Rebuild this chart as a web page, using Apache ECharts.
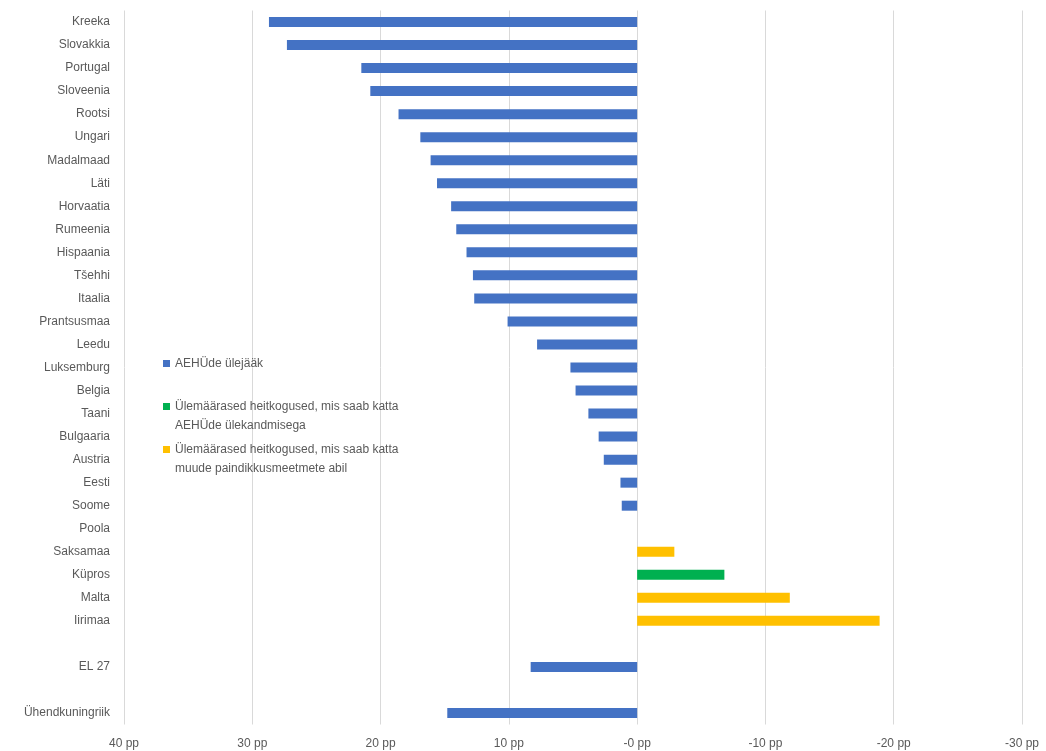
<!DOCTYPE html>
<html>
<head>
<meta charset="utf-8">
<script src="https://cdn.jsdelivr.net/npm/echarts@6/dist/echarts.min.js"></script>
<style>
html, body { margin: 0; padding: 0; background: #fff; }
#main { width: 1046px; height: 751px; }
</style>
</head>
<body>
<div id="main"></div>
<script>
const categories = ['Kreeka', 'Slovakkia', 'Portugal', 'Sloveenia', 'Rootsi', 'Ungari', 'Madalmaad', 'Läti',
    'Horvaatia', 'Rumeenia', 'Hispaania', 'Tšehhi', 'Itaalia', 'Prantsusmaa', 'Leedu', 'Luksemburg',
    'Belgia', 'Taani', 'Bulgaaria', 'Austria', 'Eesti', 'Soome', 'Poola', 'Saksamaa', 'Küpros', 'Malta',
    'Iirimaa', ' ', 'EL 27', '  ', 'Ühendkuningriik'];
// AEHÜde ülejääk
const surplus = [28.7, 27.3, 21.5, 20.8, 18.6, 16.9, 16.1, 15.6, 14.5, 14.1, 13.3, 12.8, 12.7, 10.1, 7.8, 5.2,
    4.8, 3.8, 3.0, 2.6, 1.3, 1.2, 0, null, null, null, null, null, 8.3, null, 14.8];
// katmine AEHÜde ülekandmisega
const transfer = [null, null, null, null, null, null, null, null, null, null, null, null, null, null, null, null,
    null, null, null, null, null, null, null, null, -6.8, null, null, null, null, null, null];
// katmine muude paindlikkusmeetmetega
const other = [null, null, null, null, null, null, null, null, null, null, null, null, null, null, null, null,
    null, null, null, null, null, null, null, -2.9, null, -11.9, -18.9, null, null, null, null];

const names = ['AEHÜde ülejääk',
    'Ülemäärased heitkogused, mis saab katta\nAEHÜde ülekandmisega',
    'Ülemäärased heitkogused, mis saab katta\nmuude paindikkusmeetmete abil'];
const colors = ['#4472C4', '#00B050', '#FFC000'];

const font = 'Liberation Sans';
const legendTops = [349, 392, 435];
// two-line items: keep the square next to the first line
const topIcon = 'path://M0,0H7V7H0Z M0,26L0.01,26';

let myChart = echarts.init(document.getElementById('main'));
let option = {
    color: colors,
    textStyle: { fontFamily: font },
    grid: { left: 124, right: 24, top: 10.5, bottom: 26.5 },
    legend: legendTops.map((t, i) => ({
        orient: 'vertical',
        left: 158,
        top: t,
        data: [names[i]],
        icon: i === 0 ? 'rect' : topIcon,
        itemWidth: 7,
        itemHeight: i === 0 ? 7 : 26,
        itemGap: 0,
        selectedMode: false,
        textStyle: { color: '#595959', fontSize: 12, lineHeight: 19, fontFamily: font }
    })),
    xAxis: {
        type: 'value',
        inverse: true,
        min: -30,
        max: 40,
        interval: 10,
        axisLine: { show: false },
        axisTick: { show: false },
        splitLine: { lineStyle: { color: '#D9D9D9' } },
        axisLabel: {
            color: '#595959',
            fontSize: 12,
            margin: 13,
            formatter: v => (v > 0 ? v : '-' + Math.abs(v)) + ' pp'
        }
    },
    yAxis: {
        type: 'category',
        inverse: true,
        data: categories,
        axisLine: { show: false },
        axisTick: { show: false },
        axisLabel: { color: '#595959', fontSize: 12, margin: 14 }
    },
    series: [
        { name: names[0], type: 'bar', stack: 'a', barWidth: 10, data: surplus },
        { name: names[1], type: 'bar', stack: 'a', barWidth: 10, data: transfer },
        { name: names[2], type: 'bar', stack: 'a', barWidth: 10, data: other }
    ]
};
myChart.setOption(option);
</script>
</body>
</html>
